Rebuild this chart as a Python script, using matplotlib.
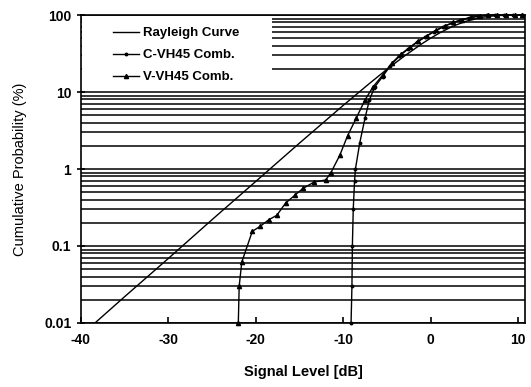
import numpy as np
import matplotlib.pyplot as plt
from matplotlib.patches import Rectangle
from matplotlib.ticker import LogLocator, FixedLocator, NullFormatter

plt.rcParams['font.family'] = ['Liberation Sans', 'DejaVu Sans']

# Rayleigh reference curve (signal level relative to median, dB)
rayleigh_db = [-38.4, -35, -30, -25, -20, -15, -10, -7, -5, -3, -1, 0, 1, 2, 3, 4, 5, 6, 7, 8, 9, 10]
rayleigh_pct = [0.010, 0.022, 0.069, 0.22, 0.69, 2.17, 6.7, 12.9, 19.7, 29.3, 42.3, 50.0,
                58.2, 66.7, 74.9, 82.5, 88.8, 93.7, 96.9, 98.7, 99.6, 99.9]

# C-VH45 combining
c_db = [-9.1, -9.0, -8.95, -8.85, -8.7, -8.6, -8.1, -7.5, -7.0, -6.4, -5.5, -4.6, -3.6, -2.6,
        -1.6, -0.6, 0.4, 1.4, 2.4, 3.4, 4.4, 5.4, 6.4, 7.4, 8.4, 9.4, 10.4]
c_pct = [0.01, 0.03, 0.1, 0.3, 0.7, 1.0, 2.2, 4.6, 7.9, 11.6, 15.8, 22, 29, 36,
         44, 52, 61, 70, 78, 86, 92, 96.5, 99, 99.7, 99.9, 99.95, 99.98]

# V-VH45 combining
v_db = [-22.0, -21.9, -21.6, -20.4, -19.5, -18.5, -17.6, -16.6, -15.5, -14.6, -13.3, -12.0,
        -11.4, -10.4, -9.5, -8.5, -7.5, -6.6, -5.5, -4.4, -3.4, -2.4, -1.4, -0.4, 0.6, 1.6,
        2.6, 3.6, 4.6, 5.6, 6.6, 7.6, 8.6, 9.6, 10.4]
v_pct = [0.01, 0.03, 0.062, 0.155, 0.18, 0.22, 0.25, 0.36, 0.46, 0.56, 0.68, 0.72,
         0.9, 1.5, 2.7, 4.6, 7.9, 11.6, 16.5, 24, 31, 38, 46, 54, 63, 72,
         80, 87, 93, 97, 99.2, 99.8, 99.9, 99.95, 99.98]

x_ticks = [-40, -30, -20, -10, 0, 10]
y_ticks = [0.01, 0.1, 1, 10, 100]
y_ticklabels = ['0.01', '0.1', '1', '10', '100']

fig = plt.figure(figsize=(5.31, 3.87), dpi=100)
ax = fig.add_axes([0.1525, 0.1654, 0.8362, 0.7958])

ax.plot(rayleigh_db, rayleigh_pct, color='black', lw=1.0, label='Rayleigh Curve', zorder=3)
ax.plot(c_db, c_pct, color='black', lw=1.0, marker='o', markersize=1.8,
        label='C-VH45 Comb.', clip_on=False, zorder=3)
ax.plot(v_db, v_pct, color='black', lw=1.0, marker='^', markersize=3.0,
        label='V-VH45 Comb.', clip_on=False, zorder=3)

ax.set_yscale('log')
ax.set_xlim(-40, 10.8)
ax.set_ylim(0.01, 100)

ax.xaxis.set_major_locator(FixedLocator(x_ticks))
ax.set_xticklabels([str(t) for t in x_ticks], fontweight='bold', fontsize=10)
ax.yaxis.set_major_locator(FixedLocator(y_ticks))
ax.set_yticklabels(y_ticklabels, fontweight='bold', fontsize=10)
ax.yaxis.set_minor_locator(LogLocator(base=10, subs=np.arange(2, 10), numticks=20))
ax.yaxis.set_minor_formatter(NullFormatter())
ax.tick_params(axis='y', which='minor', length=0)
ax.tick_params(axis='y', which='major', direction='inout', length=6, width=1.2, pad=4)
ax.tick_params(axis='x', which='major', direction='in', length=4, width=1.2, pad=7)

ax.grid(axis='y', which='both', color='black', lw=1.1)
ax.set_axisbelow(True)
for s in ax.spines.values():
    s.set_linewidth(1.2)
    s.set_zorder(4)

# white box behind the legend hides the grid there
ax.add_patch(Rectangle((0.003, 0.78), 0.427, 0.215, transform=ax.transAxes,
                       facecolor='white', edgecolor='none', zorder=2))

ax.set_xlabel('Signal Level [dB]', fontsize=10.5, fontweight='bold', labelpad=13)
ax.set_ylabel('Cumulative Probability (%)', fontsize=10.5, labelpad=12)

leg = ax.legend(loc='upper left', bbox_to_anchor=(0.045, 1.0), frameon=False, fontsize=9.5,
                handlelength=2.0, handletextpad=0.3, labelspacing=0.75)
for t in leg.get_texts():
    t.set_fontweight('bold')

fig.savefig('out.png', dpi=100)
